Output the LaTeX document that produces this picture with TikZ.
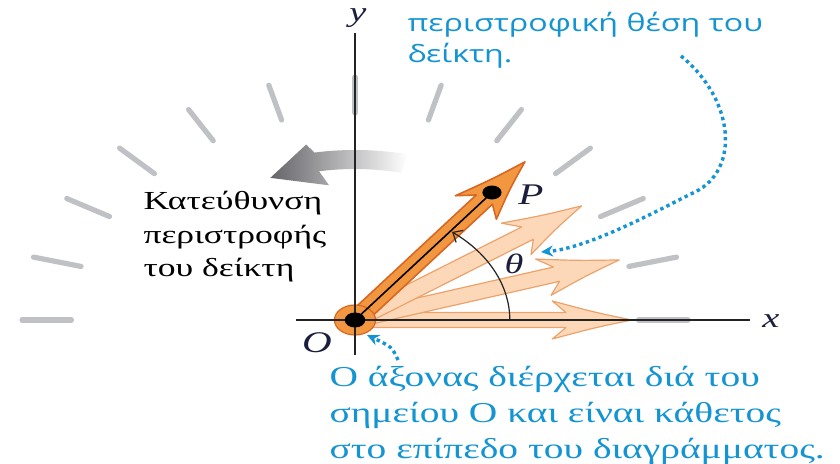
\documentclass[tikz,border=0pt]{standalone}
\usepackage{fontspec}
\setmainfont{Liberation Serif}
\newfontfamily\bluesans{Open Sans}
\usetikzlibrary{arrows.meta}
\definecolor{tickgray}{RGB}{192,193,197}
\definecolor{orangeA}{RGB}{243,150,64}
\definecolor{orangeB}{RGB}{214,104,36}
\definecolor{peachA}{RGB}{252,216,184}
\definecolor{peachB}{RGB}{236,162,108}
\definecolor{blueT}{RGB}{20,148,210}
\definecolor{navy}{RGB}{28,30,62}
\definecolor{axisc}{RGB}{35,35,35}
\definecolor{grayD}{RGB}{100,100,105}
\begin{document}
\begin{tikzpicture}[x=0.5pt,y=0.5pt,
  tickmark/.style={draw=tickgray, line width=2.6pt, line cap=round},
  axisline/.style={draw=axisc, line width=1.2pt},
  lightptr/.style={fill=peachA, draw=peachB, line width=0.6pt, line join=round},
  mainptr/.style={fill=orangeA, draw=orangeB, line width=0.8pt, line join=round},
  blk/.style={font=\fontsize{13pt}{16pt}\selectfont, text=black, xscale=1.37, inner sep=0pt},
  bluebot/.style={font=\fontsize{14.4pt}{16pt}\selectfont, text=blueT, xscale=1.37, inner sep=0pt},
  bluetop/.style={font=\bluesans\fontsize{12pt}{15pt}\selectfont, text=blueT, xscale=1.34, inner sep=0pt},
  lab/.style={font=\fontsize{14pt}{16pt}\selectfont\itshape, text=navy, xscale=1.37, inner sep=0pt},
  bluedots/.style={draw=blueT, line width=1.7pt, dash pattern=on 1.7pt off 1.7pt},
  pics/pointer/.style={code={
    \path[pic actions] (0,7.5) -- (#1-48,7.5) -- (#1-58,19) .. controls (#1-28,8) .. (#1,0)
      .. controls (#1-28,-8) .. (#1-58,-19) -- (#1-48,-7.5) -- (0,-7.5) -- cycle;
  }}]
\useasboundingbox (0,0) rectangle (840,464);
\fill[white] (0,0) rectangle (840,464);
\coordinate (O) at (355,144);
% stretched geometry around O
\begin{scope}[shift={(O)}, xscale=1.37]
  \foreach \a in {0,15,...,180}
    \draw[tickmark] (\a:207) -- (\a:243);
  % gray rotation arrow
  \shade[left color=grayD, right color=white, shading angle=90]
    (77:170) arc[start angle=77, end angle=100, radius=170] -- (101.5:179) -- (113.5:155)
    -- (98:136) -- (100:151) arc[start angle=100, end angle=77, radius=151] -- cycle;
  % light pointers
  \pic[lightptr, transform shape] {pointer=202};
  \pic[lightptr, transform shape, rotate=17.3] {pointer=202};
  \pic[lightptr, transform shape, rotate=34.6] {pointer=201};
  % main pointer
  \pic[mainptr, transform shape, rotate=51.9] {pointer=201};
  \fill[orangeA, draw=orangeB, line width=0.6pt] (0,0) circle[radius=15];
  \coordinate (P) at (51.9:162);
  \draw[black, line width=0.8pt] (0,0) -- (P);
  \fill[black] (P) circle[radius=7];
\end{scope}
% axes
\coordinate (ytop) at (355,431);
\coordinate (ybot) at (355,109);
\coordinate (xl) at (296,144);
\coordinate (xr) at (750,144);
\draw[axisline] (ybot) -- (ytop);
\draw[axisline] (xl) -- (xr);
\begin{scope}[shift={(O)}, xscale=1.37]
  \fill[black] (0,0) circle[radius=7.5];
  \draw[axisc, line width=0.6pt, -{Straight Barb[length=4pt, width=7pt]}]
    (113,0) arc[start angle=0, end angle=51.2, radius=113];
\end{scope}
% labels
\node[lab] (ly) at (358,446) {y};
\node[lab] (lx) at (771,143) {x};
\node[lab, font=\fontsize{15pt}{16pt}\selectfont\itshape] (lP) at (531,269) {P};
\node[lab, font=\fontsize{15pt}{16pt}\selectfont\itshape] (lO) at (317,121) {O};
\node[lab] (lth) at (514,200) {θ};
% black text
\node[blk, anchor=base west] (k1) at (143,254) {Κατεύθυνση};
\node[blk, anchor=base west] (k2) at (143,220.5) {περιστροφής};
\node[blk, anchor=base west] (k3) at (143,187) {του δείκτη};
% top blue text
\node[bluetop, anchor=base west] (t1) at (407,432) {περιστροφική θέση του};
\node[bluetop, anchor=base west] (t2) at (407,401) {δείκτη.};
% bottom blue text
\node[bluebot, anchor=base west] (b1) at (329,77) {Ο άξονας διέρχεται διά του};
\node[bluebot, anchor=base west] (b2) at (329,41) {σημείου Ο και είναι κάθετος};
\node[bluebot, anchor=base west] (b3) at (329,5) {στο επίπεδο του διαγράμματος.};
% blue dotted pointers
\coordinate (c1s) at (681,408);
\coordinate (c1m) at (695,272);
\coordinate (c1e) at (541,212);
\draw[bluedots, -{Stealth[length=6pt, width=5.5pt]}] (c1s) .. controls (735,364) and (740,294) .. (c1m)
  .. controls (660,255) and (590,216) .. (c1e);
\coordinate (c2s) at (398,104);
\coordinate (c2e) at (367,129);
\draw[bluedots, -{Stealth[length=6pt, width=5.5pt]}] (c2s) .. controls (392,117) .. (c2e);
\end{tikzpicture}
\end{document}
